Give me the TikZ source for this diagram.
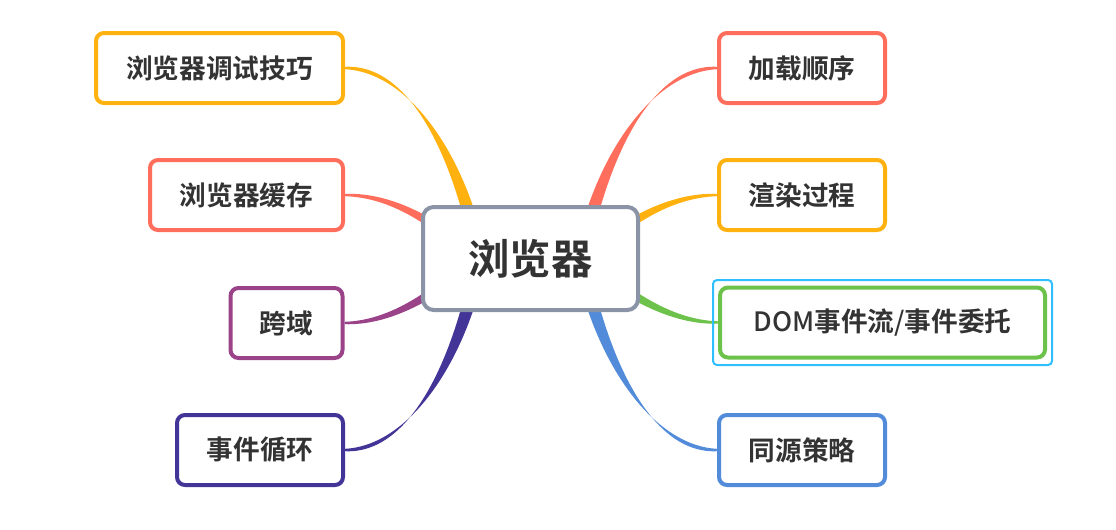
\documentclass[tikz,border=0pt]{standalone}
\usepackage{fontspec}
\newfontfamily\cjk{Noto Sans CJK SC}[BoldFont={Noto Sans CJK SC Bold}]
\newfontfamily\cjkmed{Noto Sans CJK SC Medium}
\usetikzlibrary{calc}
\pgfdeclarelayer{bg}
\pgfsetlayers{bg,main}
\definecolor{cyel}{HTML}{FFB20F}
\definecolor{csal}{HTML}{FF6E5C}
\definecolor{cpur}{HTML}{9A4389}
\definecolor{cind}{HTML}{433597}
\definecolor{cblu}{HTML}{528BDA}
\definecolor{cgrn}{HTML}{6DC24B}
\definecolor{cgry}{HTML}{8A94A6}
\definecolor{csel}{HTML}{2FBFFF}
\definecolor{ctxt}{HTML}{333333}
% #1 colour, #2 start, #3 ctrl near start, #4 ctrl near end, #5 end,
% #6..#9 half-width offsets at those four points
\newcommand\brch[9]{%
  \fill[#1] ($#2+#6$) .. controls ($#3+#7$) and ($#4+#8$) .. ($#5+#9$)
    -- ($#5-#9$) .. controls ($#4-#8$) and ($#3-#7$) .. ($#2-#6$) -- cycle;}
\tikzset{
  topic/.style={draw=#1, line width=3pt, rounded corners=6pt, fill=white,
    text=ctxt, font=\cjk\bfseries\fontsize{20pt}{24pt}\selectfont,
    minimum height=52.5pt, inner sep=0pt},
  hub/.style={draw=cgry, line width=3pt, rounded corners=8pt, fill=white,
    text=ctxt, font=\cjk\bfseries\fontsize{31pt}{36pt}\selectfont,
    minimum width=161.25pt, minimum height=77.25pt, inner sep=0pt},
  selbox/.style={draw=csel, line width=1.5pt, rounded corners=3pt}
}
\begin{document}
\begin{tikzpicture}[x=0.75pt,y=-0.75pt]
\useasboundingbox (0,0) rectangle (1116,529);
% hub
\node[hub] (c) at (530.5,258.5) {浏览器};
% left topics
\node[topic=cyel, minimum width=185.25pt] (dbg) at (219.5,68) {浏览器调试技巧};
\node[topic=csal, minimum width=144.75pt] (cache) at (246.5,195) {浏览器缓存};
\node[topic=cpur, minimum width=84pt] (cors) at (286.5,323) {跨域};
\node[topic=cind, minimum width=124.5pt] (loop) at (260,450) {事件循环};
% right topics
\node[topic=csal, minimum width=124.5pt] (load) at (802,68) {加载顺序};
\node[topic=cyel, minimum width=124.5pt] (render) at (802,195) {渲染过程};
\node[topic=cgrn, minimum width=243.75pt] (dom) at (882.5,322.5) {{\cjkmed\mdseries DOM}事件流{\cjkmed\mdseries /}事件委托};
\node[topic=cblu, minimum width=124.5pt] (same) at (802,450) {同源策略};
\draw[selbox] ($(dom.south west)+(-5,5.5)$) rectangle ($(dom.north east)+(5,-5.5)$);
% branches
\begin{pgfonlayer}{bg}
\brch{cyel}{(c.center)+(-50.5,0)}{(c.center)+(-70.5,-102)}{(dbg.east)+(65,0)}{(dbg.east)}{(7,0)}{(7,0)}{(0,4.5)}{(0,1.2)}
\brch{csal}{(c.center)+(-70.5,-13.5)}{(c.center)+(-100.5,-38.5)}{(cache.east)+(45,0)}{(cache.east)}{(-3.2,4)}{(-3,3.6)}{(0,2.6)}{(0,1.2)}
\brch{cpur}{(c.center)+(-70.5,13.5)}{(c.center)+(-100.5,37.5)}{(cors.east)+(45,0)}{(cors.east)}{(3.2,4)}{(3,3.6)}{(0,2.6)}{(0,1.2)}
\brch{cind}{(c.center)+(-50.5,0)}{(c.center)+(-70.5,102)}{(loop.east)+(65,0)}{(loop.east)}{(7,0)}{(7,0)}{(0,-4.5)}{(0,-1.2)}
\brch{csal}{(c.center)+(50.5,0)}{(c.center)+(70.5,-102)}{(load.west)+(-65,0)}{(load.west)}{(7,0)}{(7,0)}{(0,-4.5)}{(0,-1.2)}
\brch{cyel}{(c.center)+(70.5,-13.5)}{(c.center)+(100.5,-38.5)}{(render.west)+(-45,0)}{(render.west)}{(3.2,4)}{(3,3.6)}{(0,2.6)}{(0,1.2)}
\brch{cgrn}{(c.center)+(70.5,13.5)}{(c.center)+(100.5,37.5)}{(dom.west)+(-45,0)}{(dom.west)}{(-3.2,4)}{(-3,3.6)}{(0,2.6)}{(0,1.2)}
\brch{cblu}{(c.center)+(50.5,0)}{(c.center)+(70.5,102)}{(same.west)+(-65,0)}{(same.west)}{(7,0)}{(7,0)}{(0,4.5)}{(0,1.2)}
\end{pgfonlayer}
\end{tikzpicture}
\end{document}
